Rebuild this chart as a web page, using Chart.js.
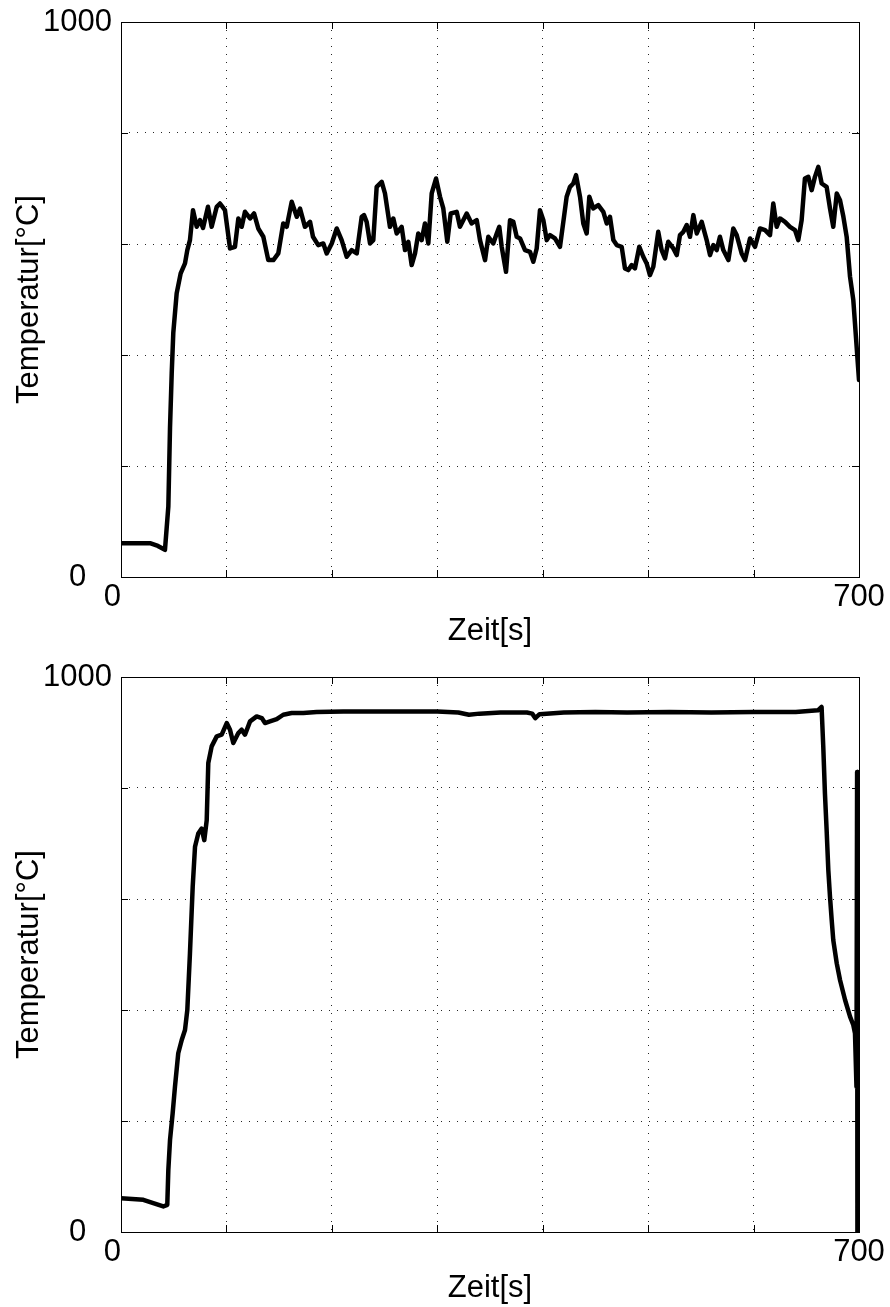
<!DOCTYPE html>
<html>
<head>
<meta charset="utf-8">
<script src="https://cdn.jsdelivr.net/npm/chart.js@4/dist/chart.umd.min.js"></script>
<style>
  html, body { margin: 0; padding: 0; background: #fff; }
  .panel { position: absolute; left: 0; width: 890px; }
  #p1 { top: 0; height: 650px; }
  #p2 { top: 650px; height: 657px; }
</style>
</head>
<body>
<div class="panel" id="p1"><canvas id="chartTop"></canvas></div>
<div class="panel" id="p2"><canvas id="chartBottom"></canvas></div>
<script>
// ══════════════════════════════
//  DATA
// ══════════════════════════════
const xTitle = 'Zeit[s]';
const yTitle = 'Temperatur[°C]';

const topTime = [
  0, 27.5, 35, 41.7, 44.9, 46.5, 48.1, 49.6, 52.8, 56.6, 60.7, 62.9, 65.4, 68.3, 71.8, 74.9, 77.8,
  82.5, 86, 90.8, 93.9, 98.6, 103.4, 108.1, 111.3, 114.5, 117.6, 122.4, 126.2, 130.2, 135, 139.7,
  144.5, 149.2, 153.9, 157.2, 161.9, 166.7, 169.8, 174.5, 179.3, 182.1, 187.1, 191.9, 195.1, 199.9,
  204.6, 209.3, 214.1, 218.8, 223.6, 228.3, 230.5, 233, 236.2, 239.3, 242.5, 247.3, 250.4, 255.1,
  258.3, 261.5, 266.2, 269.4, 272.5, 275.7, 278.9, 282, 285.2, 288.3, 291.5, 294.7, 298.8, 302.6,
  305.7, 309.5, 312.7, 318.4, 321.5, 327.9, 332.6, 337.4, 340.5, 345.3, 348.4, 353.1, 356.4, 358.8,
  361.1, 365.2, 369, 372.1, 375.3, 378.5, 383.2, 387.9, 391.1, 394.3, 397.4, 400.6, 403.8, 406.9,
  411.6, 416.4, 420.2, 422.7, 425.9, 429, 431.6, 435.4, 438.5, 441.7, 444.2, 448, 452.7, 457.5,
  460.7, 463.8, 467, 470.2, 474.9, 478, 481.2, 484.4, 487.5, 491.6, 495.4, 498.6, 501.7, 504.9,
  509.6, 512.8, 516, 519.1, 523.9, 527.1, 530.2, 533.4, 536.6, 539.7, 542.9, 546.1, 550.8, 555.5,
  558.7, 561.8, 565, 568.1, 571.3, 576.1, 580.8, 584, 588.7, 591.9, 596.6, 601.4, 606.1, 610.9,
  615.6, 618.7, 621.9, 625.1, 629.8, 634.5, 639.3, 642.4, 645.6, 648.7, 651.9, 655.1, 658.2, 661.4,
  664.6, 669.3, 672.5, 675.6, 678.9, 682, 685.2, 688.3, 691.5, 694.6, 697.2, 700
];
const topTemp = [
  61, 61, 56, 49, 127, 270, 367, 440, 511, 547, 565, 589, 607, 661, 631, 643, 629,
  667, 631, 667, 673, 661, 592, 595, 646, 631, 658, 646, 655, 628, 613, 571,
  571, 583, 637, 631, 676, 649, 664, 631, 640, 613, 598, 601, 583, 601,
  628, 607, 577, 589, 583, 649, 652, 640, 601, 607, 703, 712, 691, 631,
  646, 619, 631, 589, 604, 562, 583, 619, 607, 637, 601, 691, 718, 685,
  664, 604, 655, 658, 631, 655, 637, 643, 607, 571, 613, 601, 619, 631,
  595, 550, 643, 640, 613, 610, 589, 586, 568, 592, 661, 643, 607, 616,
  610, 595, 649, 685, 703, 709, 724, 685, 637, 619, 685, 664, 670, 658,
  637, 649, 607, 598, 595, 556, 553, 562, 556, 595, 577, 565, 544, 559,
  622, 589, 574, 604, 592, 580, 616, 622, 634, 613, 652, 619, 640, 607,
  580, 598, 589, 613, 589, 571, 628, 616, 583, 571, 610, 595, 628, 625,
  616, 673, 631, 646, 640, 631, 625, 607, 643, 718, 721, 697, 721, 739,
  709, 703, 664, 631, 691, 679, 649, 613, 541, 499, 430, 355
];

const bottomTime = [
  0, 21.2, 30.6, 40.1, 43.9, 44.9, 46.5, 49, 51.2, 54.3, 57.6, 60.7, 62.9, 65.4, 68, 70.2, 73.3,
  76.5, 79, 81.3, 82.8, 86, 90.8, 95.5, 100.3, 103.4, 106.5, 111.3, 114.5, 117.6, 122.4, 128.7,
  133.5, 136.6, 141.3, 147.7, 153.9, 161.9, 172.9, 185.6, 210.9, 250, 300, 320, 330, 340, 360,
  385, 390, 393, 397, 420, 450, 480, 520, 560, 600, 640, 661, 664.5, 666.1, 667.7, 669.3, 670.9,
  672.5, 674.1, 675.6, 678.9, 682, 686.8, 691.5, 694.6, 696.2, 697.6, 698.2, 698.5
];
const bottomTemp = [
  61, 58, 52, 46, 49, 112, 166, 214, 262, 322, 346, 364, 400, 502, 622, 694, 718,
  727, 706, 742, 845, 875, 893, 896, 917, 905, 881, 899, 905, 896, 920, 929,
  926, 917, 920, 924, 932, 935, 935, 937, 938, 938, 938, 936, 932, 934, 936,
  936, 934, 926, 933, 936, 937, 936, 937, 936, 937, 937, 940, 946, 875, 790, 724, 652,
  604, 562, 526, 484, 454, 418, 388, 373, 358, 262, 829, 0
];

const xMin = 0, xMax = 700, xStep = 100;
const yMin = 0, yMax = 1000, yStep = 200;

// ══════════════════════════════
//  PLUGIN: box + ticks nach innen
// ══════════════════════════════
const boxPlugin = {
  id: 'boxTicks',
  afterDraw(chart) {
    const ctx = chart.ctx;
    const a = chart.chartArea;
    const xs = chart.scales.x, ys = chart.scales.y;
    const len = 7;
    ctx.save();
    ctx.strokeStyle = '#000';
    ctx.lineWidth = 1;
    ctx.beginPath();
    xs.ticks.forEach(t => {
      const px = Math.round(xs.getPixelForValue(t.value)) + 0.5;
      ctx.moveTo(px, a.bottom); ctx.lineTo(px, a.bottom - len);
      ctx.moveTo(px, a.top); ctx.lineTo(px, a.top + len);
    });
    ys.ticks.forEach(t => {
      const py = Math.round(ys.getPixelForValue(t.value)) + 0.5;
      ctx.moveTo(a.left, py); ctx.lineTo(a.left + len, py);
      ctx.moveTo(a.right, py); ctx.lineTo(a.right - len, py);
    });
    ctx.stroke();
    ctx.strokeRect(Math.round(a.left) + 0.5, Math.round(a.top) + 0.5,
      Math.round(a.right - a.left), Math.round(a.bottom - a.top));
    ctx.restore();
  }
};

const font = { family: '"Liberation Sans", Arial, Helvetica, sans-serif', size: 31 };

// feste Achsgrößen, ohne Überhang-Padding der Labels
function fixSize(prop, size) {
  return (s) => {
    s[prop] = size;
    s.paddingTop = 0; s.paddingBottom = 0;
    s.paddingLeft = 0; s.paddingRight = 0;
  };
}

function makeChart(canvasId, times, temps, padTop, xHeight) {
  return new Chart(document.getElementById(canvasId), {
    type: 'line',
    plugins: [boxPlugin],
    data: {
      datasets: [{
        data: times.map((t, i) => ({ x: t, y: temps[i] })),
        borderColor: '#000',
        borderWidth: 4.5,
        borderJoinStyle: 'round',
        borderCapStyle: 'round',
        pointRadius: 0,
        tension: 0,
        fill: false,
      }]
    },
    options: {
      animation: false,
      responsive: true,
      maintainAspectRatio: false,
      layout: { padding: { top: padTop, right: 31, left: 0, bottom: 0 } },
      plugins: { legend: { display: false }, tooltip: { enabled: false } },
      scales: {
        x: {
          type: 'linear',
          min: xMin, max: xMax,
          afterFit: fixSize('height', xHeight),
          grid: { color: 'rgba(0,0,0,0.85)', lineWidth: 1, drawTicks: false },
          border: { display: false, dash: [1, 7] },
          ticks: {
            stepSize: xStep,
            autoSkip: false,
            maxRotation: 0,
            padding: 2,
            color: '#000',
            font: font,
            callback: (v) => v === xMin ? '0  ' : (v === xMax ? String(v) : ''),
          },
          title: { display: true, text: xTitle, color: '#000', font: font, padding: { top: 0, bottom: 0 } },
        },
        y: {
          min: yMin, max: yMax,
          afterFit: fixSize('width', 121),
          grid: { color: 'rgba(0,0,0,0.85)', lineWidth: 1, drawTicks: false },
          border: { display: false, dash: [1, 7] },
          ticks: {
            stepSize: yStep,
            autoSkip: false,
            padding: 9,
            color: '#000',
            font: font,
            callback: (v) => v === yMin ? '0   ' : (v === yMax ? String(v) : ''),
          },
          title: { display: true, text: yTitle, color: '#000', font: font, padding: { top: 11, bottom: 11 } },
        }
      }
    }
  });
}

makeChart('chartTop', topTime, topTemp, 22, 73);
makeChart('chartBottom', bottomTime, bottomTemp, 27, 75);
</script>
</body>
</html>
